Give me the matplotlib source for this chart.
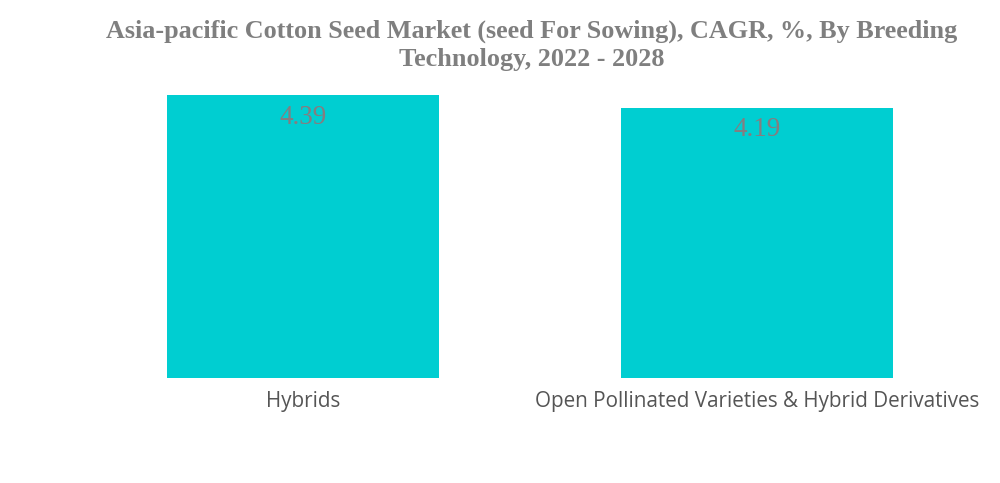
import matplotlib
matplotlib.use("Agg")
import matplotlib.pyplot as plt

# Chart data
categories = ["Hybrids", "Open Pollinated Varieties & Hybrid Derivatives"]
cagr = [4.39, 4.19]
title = "Asia-pacific Cotton Seed Market (seed For Sowing), CAGR, %, By Breeding\nTechnology, 2022 - 2028"

fig = plt.figure(figsize=(10, 4.83), dpi=100)
ax = fig.add_axes([0.076, 1 - 378 / 483, 0.908, 288 / 483])

x = range(len(categories))
bars = ax.bar(x, cagr, width=0.6, color="#00CED1")

# value labels just inside the top of each bar
for rect, val in zip(bars, cagr):
    ax.annotate(f"{val:.2f}", (rect.get_x() + rect.get_width() / 2, rect.get_height()),
                xytext=(0, -7), textcoords="offset points", ha="center", va="top",
                family="Liberation Serif", fontsize=19.5, color="#857d80")

ax.set_xlim(-0.5, 1.5)
ax.set_ylim(0, 4.465)
ax.set_xticks(list(x))
ax.set_xticklabels(categories, family="Open Sans", fontsize=14.9, color="#555555")
ax.tick_params(axis="x", length=0, pad=9)
ax.set_yticks([])
for s in ax.spines.values():
    s.set_visible(False)

fig.text(0.532, 1 - 45.5 / 483, title, ha="center", va="center", linespacing=1.3,
         family="Liberation Serif", fontweight="bold", fontsize=18.8, color="#7f7f7f")

fig.savefig("out.png", dpi=100)
